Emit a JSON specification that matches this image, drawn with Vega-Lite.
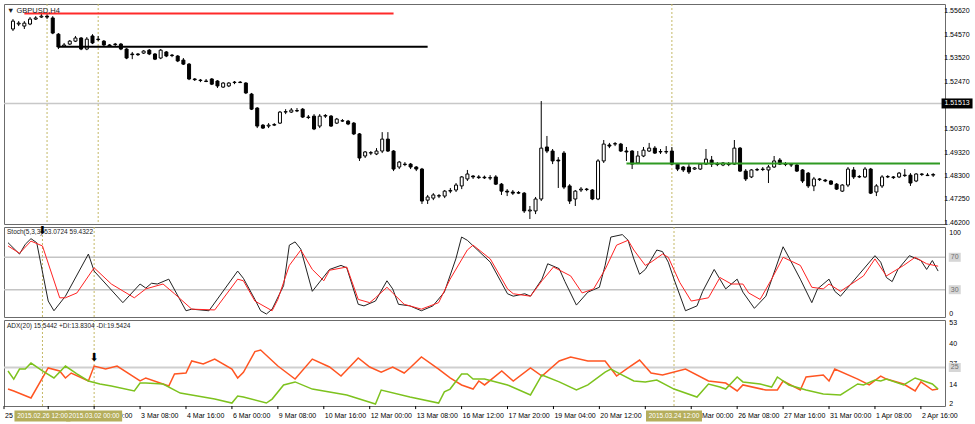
{
"$schema": "https://vega.github.io/schema/vega-lite/v6.json",
"autosize": {"type": "pad"},
"padding": {"left": 2, "top": 3, "right": 0, "bottom": 0},
"background": "white",
"spacing": 3,
"bounds": "flush",
"resolve": {"scale": {"color": "independent"}},
"config": {
  "view": {"stroke": "#6b6b6b", "strokeWidth": 1},
  "font": "Liberation Sans",
  "axis": {"labelFont": "Liberation Sans", "labelFontSize": 7, "labelColor": "#000000", "tickColor": "#000000", "domain": false, "title": null, "labelOverlap": false},
  "title": {"font": "Liberation Sans", "fontWeight": "normal", "fontSize": 7, "color": "#1a1a1a", "anchor": "start", "frame": "group", "baseline": "bottom"}
},
"datasets": {
  "candles": [
    {"i":0,"o":1.5482,"h":1.5526,"l":1.5473,"c":1.5517},
    {"i":1,"o":1.5504,"h":1.5517,"l":1.5495,"c":1.5508},
    {"i":2,"o":1.5495,"h":1.5517,"l":1.5482,"c":1.5508},
    {"i":3,"o":1.5504,"h":1.5535,"l":1.5499,"c":1.5526},
    {"i":4,"o":1.5526,"h":1.5539,"l":1.5522,"c":1.5531},
    {"i":5,"o":1.5535,"h":1.5553,"l":1.5531,"c":1.5539},
    {"i":6,"o":1.5539,"h":1.5548,"l":1.5526,"c":1.5535},
    {"i":7,"o":1.5531,"h":1.5539,"l":1.5459,"c":1.5464},
    {"i":8,"o":1.5459,"h":1.5464,"l":1.5393,"c":1.5402},
    {"i":9,"o":1.5406,"h":1.5420,"l":1.5402,"c":1.5411},
    {"i":10,"o":1.5415,"h":1.5433,"l":1.5411,"c":1.5428},
    {"i":11,"o":1.5428,"h":1.5451,"l":1.5424,"c":1.5442},
    {"i":12,"o":1.5442,"h":1.5446,"l":1.5388,"c":1.5393},
    {"i":13,"o":1.5393,"h":1.5446,"l":1.5388,"c":1.5437},
    {"i":14,"o":1.5451,"h":1.5459,"l":1.5415,"c":1.5420},
    {"i":15,"o":1.5437,"h":1.5451,"l":1.5428,"c":1.5435},
    {"i":16,"o":1.5428,"h":1.5433,"l":1.5406,"c":1.5411},
    {"i":17,"o":1.5411,"h":1.5415,"l":1.5402,"c":1.5406},
    {"i":18,"o":1.5415,"h":1.5420,"l":1.5406,"c":1.5413},
    {"i":19,"o":1.5415,"h":1.5420,"l":1.5388,"c":1.5393},
    {"i":20,"o":1.5393,"h":1.5397,"l":1.5348,"c":1.5353},
    {"i":21,"o":1.5371,"h":1.5380,"l":1.5348,"c":1.5368},
    {"i":22,"o":1.5371,"h":1.5375,"l":1.5362,"c":1.5368},
    {"i":23,"o":1.5375,"h":1.5388,"l":1.5371,"c":1.5384},
    {"i":24,"o":1.5388,"h":1.5393,"l":1.5366,"c":1.5371},
    {"i":25,"o":1.5371,"h":1.5375,"l":1.5344,"c":1.5348},
    {"i":26,"o":1.5353,"h":1.5393,"l":1.5348,"c":1.5388},
    {"i":27,"o":1.5380,"h":1.5384,"l":1.5357,"c":1.5362},
    {"i":28,"o":1.5366,"h":1.5371,"l":1.5357,"c":1.5364},
    {"i":29,"o":1.5362,"h":1.5366,"l":1.5335,"c":1.5340},
    {"i":30,"o":1.5344,"h":1.5353,"l":1.5322,"c":1.5326},
    {"i":31,"o":1.5326,"h":1.5331,"l":1.5255,"c":1.5260},
    {"i":32,"o":1.5260,"h":1.5264,"l":1.5251,"c":1.5257},
    {"i":33,"o":1.5255,"h":1.5260,"l":1.5246,"c":1.5253},
    {"i":34,"o":1.5251,"h":1.5260,"l":1.5246,"c":1.5249},
    {"i":35,"o":1.5260,"h":1.5264,"l":1.5233,"c":1.5237},
    {"i":36,"o":1.5251,"h":1.5255,"l":1.5220,"c":1.5229},
    {"i":37,"o":1.5224,"h":1.5246,"l":1.5220,"c":1.5242},
    {"i":38,"o":1.5229,"h":1.5246,"l":1.5224,"c":1.5242},
    {"i":39,"o":1.5246,"h":1.5251,"l":1.5237,"c":1.5244},
    {"i":40,"o":1.5246,"h":1.5251,"l":1.5242,"c":1.5244},
    {"i":41,"o":1.5242,"h":1.5246,"l":1.5193,"c":1.5198},
    {"i":42,"o":1.5193,"h":1.5198,"l":1.5122,"c":1.5126},
    {"i":43,"o":1.5131,"h":1.5135,"l":1.5042,"c":1.5051},
    {"i":44,"o":1.5055,"h":1.5060,"l":1.5038,"c":1.5042},
    {"i":45,"o":1.5051,"h":1.5064,"l":1.5042,"c":1.5055},
    {"i":46,"o":1.5055,"h":1.5064,"l":1.5051,"c":1.5058},
    {"i":47,"o":1.5064,"h":1.5118,"l":1.5060,"c":1.5113},
    {"i":48,"o":1.5113,"h":1.5126,"l":1.5104,"c":1.5115},
    {"i":49,"o":1.5113,"h":1.5131,"l":1.5109,"c":1.5122},
    {"i":50,"o":1.5118,"h":1.5131,"l":1.5113,"c":1.5120},
    {"i":51,"o":1.5126,"h":1.5131,"l":1.5087,"c":1.5091},
    {"i":52,"o":1.5091,"h":1.5100,"l":1.5082,"c":1.5089},
    {"i":53,"o":1.5095,"h":1.5104,"l":1.5033,"c":1.5038},
    {"i":54,"o":1.5051,"h":1.5104,"l":1.5042,"c":1.5095},
    {"i":55,"o":1.5095,"h":1.5104,"l":1.5087,"c":1.5098},
    {"i":56,"o":1.5095,"h":1.5100,"l":1.5047,"c":1.5051},
    {"i":57,"o":1.5064,"h":1.5087,"l":1.5060,"c":1.5082},
    {"i":58,"o":1.5073,"h":1.5082,"l":1.5069,"c":1.5075},
    {"i":59,"o":1.5073,"h":1.5078,"l":1.5055,"c":1.5060},
    {"i":60,"o":1.5064,"h":1.5069,"l":1.5011,"c":1.5016},
    {"i":61,"o":1.5016,"h":1.5020,"l":1.4896,"c":1.4909},
    {"i":62,"o":1.4918,"h":1.4940,"l":1.4909,"c":1.4936},
    {"i":63,"o":1.4931,"h":1.4940,"l":1.4922,"c":1.4933},
    {"i":64,"o":1.4927,"h":1.4953,"l":1.4922,"c":1.4940},
    {"i":65,"o":1.4940,"h":1.5024,"l":1.4931,"c":1.4993},
    {"i":66,"o":1.4993,"h":1.5024,"l":1.4936,"c":1.4940},
    {"i":67,"o":1.4940,"h":1.4944,"l":1.4851,"c":1.4860},
    {"i":68,"o":1.4869,"h":1.4896,"l":1.4860,"c":1.4891},
    {"i":69,"o":1.4882,"h":1.4891,"l":1.4873,"c":1.4880},
    {"i":70,"o":1.4882,"h":1.4887,"l":1.4860,"c":1.4869},
    {"i":71,"o":1.4869,"h":1.4873,"l":1.4851,"c":1.4860},
    {"i":72,"o":1.4860,"h":1.4865,"l":1.4705,"c":1.4718},
    {"i":73,"o":1.4722,"h":1.4745,"l":1.4705,"c":1.4736},
    {"i":74,"o":1.4731,"h":1.4753,"l":1.4722,"c":1.4745},
    {"i":75,"o":1.4740,"h":1.4749,"l":1.4731,"c":1.4742},
    {"i":76,"o":1.4740,"h":1.4767,"l":1.4731,"c":1.4762},
    {"i":77,"o":1.4762,"h":1.4776,"l":1.4753,"c":1.4765},
    {"i":78,"o":1.4767,"h":1.4798,"l":1.4758,"c":1.4789},
    {"i":79,"o":1.4785,"h":1.4829,"l":1.4771,"c":1.4825},
    {"i":80,"o":1.4816,"h":1.4856,"l":1.4807,"c":1.4838},
    {"i":81,"o":1.4829,"h":1.4833,"l":1.4816,"c":1.4825},
    {"i":82,"o":1.4825,"h":1.4833,"l":1.4816,"c":1.4822},
    {"i":83,"o":1.4824,"h":1.4831,"l":1.4816,"c":1.4821},
    {"i":84,"o":1.4820,"h":1.4833,"l":1.4811,"c":1.4822},
    {"i":85,"o":1.4825,"h":1.4833,"l":1.4789,"c":1.4793},
    {"i":86,"o":1.4793,"h":1.4798,"l":1.4745,"c":1.4762},
    {"i":87,"o":1.4762,"h":1.4771,"l":1.4740,"c":1.4758},
    {"i":88,"o":1.4758,"h":1.4767,"l":1.4745,"c":1.4753},
    {"i":89,"o":1.4753,"h":1.4762,"l":1.4749,"c":1.4756},
    {"i":90,"o":1.4753,"h":1.4758,"l":1.4665,"c":1.4674},
    {"i":91,"o":1.4674,"h":1.4696,"l":1.4638,"c":1.4678},
    {"i":92,"o":1.4674,"h":1.4736,"l":1.4660,"c":1.4727},
    {"i":93,"o":1.4727,"h":1.5162,"l":1.4718,"c":1.4953},
    {"i":94,"o":1.4958,"h":1.5007,"l":1.4931,"c":1.4940},
    {"i":95,"o":1.4940,"h":1.4949,"l":1.4882,"c":1.4896},
    {"i":96,"o":1.4900,"h":1.4913,"l":1.4776,"c":1.4896},
    {"i":97,"o":1.4931,"h":1.4940,"l":1.4771,"c":1.4780},
    {"i":98,"o":1.4785,"h":1.4793,"l":1.4705,"c":1.4718},
    {"i":99,"o":1.4727,"h":1.4767,"l":1.4696,"c":1.4762},
    {"i":100,"o":1.4767,"h":1.4780,"l":1.4758,"c":1.4771},
    {"i":101,"o":1.4771,"h":1.4776,"l":1.4762,"c":1.4769},
    {"i":102,"o":1.4767,"h":1.4771,"l":1.4722,"c":1.4727},
    {"i":103,"o":1.4727,"h":1.4904,"l":1.4722,"c":1.4896},
    {"i":104,"o":1.4896,"h":1.4989,"l":1.4887,"c":1.4971},
    {"i":105,"o":1.4967,"h":1.4976,"l":1.4953,"c":1.4962},
    {"i":106,"o":1.4971,"h":1.4980,"l":1.4962,"c":1.4973},
    {"i":107,"o":1.4971,"h":1.4976,"l":1.4936,"c":1.4940},
    {"i":108,"o":1.4940,"h":1.4958,"l":1.4896,"c":1.4936},
    {"i":109,"o":1.4940,"h":1.4944,"l":1.4860,"c":1.4882},
    {"i":110,"o":1.4887,"h":1.4940,"l":1.4882,"c":1.4918},
    {"i":111,"o":1.4918,"h":1.4958,"l":1.4913,"c":1.4944},
    {"i":112,"o":1.4940,"h":1.4976,"l":1.4936,"c":1.4953},
    {"i":113,"o":1.4953,"h":1.4962,"l":1.4927,"c":1.4931},
    {"i":114,"o":1.4936,"h":1.4949,"l":1.4927,"c":1.4938},
    {"i":115,"o":1.4936,"h":1.4962,"l":1.4927,"c":1.4938},
    {"i":116,"o":1.4940,"h":1.4958,"l":1.4878,"c":1.4882},
    {"i":117,"o":1.4882,"h":1.4887,"l":1.4851,"c":1.4860},
    {"i":118,"o":1.4869,"h":1.4873,"l":1.4847,"c":1.4856},
    {"i":119,"o":1.4869,"h":1.4882,"l":1.4838,"c":1.4847},
    {"i":120,"o":1.4860,"h":1.4869,"l":1.4856,"c":1.4865},
    {"i":121,"o":1.4860,"h":1.4887,"l":1.4856,"c":1.4882},
    {"i":122,"o":1.4882,"h":1.4949,"l":1.4878,"c":1.4904},
    {"i":123,"o":1.4900,"h":1.4918,"l":1.4869,"c":1.4882},
    {"i":124,"o":1.4882,"h":1.4891,"l":1.4873,"c":1.4880},
    {"i":125,"o":1.4878,"h":1.4891,"l":1.4873,"c":1.4887},
    {"i":126,"o":1.4882,"h":1.4891,"l":1.4873,"c":1.4880},
    {"i":127,"o":1.4882,"h":1.4989,"l":1.4878,"c":1.4953},
    {"i":128,"o":1.4953,"h":1.4958,"l":1.4847,"c":1.4851},
    {"i":129,"o":1.4851,"h":1.4860,"l":1.4807,"c":1.4816},
    {"i":130,"o":1.4825,"h":1.4860,"l":1.4820,"c":1.4856},
    {"i":131,"o":1.4856,"h":1.4865,"l":1.4851,"c":1.4858},
    {"i":132,"o":1.4860,"h":1.4869,"l":1.4851,"c":1.4858},
    {"i":133,"o":1.4856,"h":1.4878,"l":1.4798,"c":1.4869},
    {"i":134,"o":1.4869,"h":1.4918,"l":1.4865,"c":1.4896},
    {"i":135,"o":1.4900,"h":1.4909,"l":1.4878,"c":1.4882},
    {"i":136,"o":1.4882,"h":1.4891,"l":1.4873,"c":1.4880},
    {"i":137,"o":1.4878,"h":1.4887,"l":1.4869,"c":1.4880},
    {"i":138,"o":1.4878,"h":1.4882,"l":1.4847,"c":1.4851},
    {"i":139,"o":1.4856,"h":1.4860,"l":1.4798,"c":1.4807},
    {"i":140,"o":1.4842,"h":1.4847,"l":1.4776,"c":1.4785},
    {"i":141,"o":1.4785,"h":1.4825,"l":1.4762,"c":1.4816},
    {"i":142,"o":1.4816,"h":1.4820,"l":1.4807,"c":1.4813},
    {"i":143,"o":1.4811,"h":1.4816,"l":1.4802,"c":1.4807},
    {"i":144,"o":1.4807,"h":1.4811,"l":1.4789,"c":1.4793},
    {"i":145,"o":1.4793,"h":1.4798,"l":1.4767,"c":1.4771},
    {"i":146,"o":1.4762,"h":1.4793,"l":1.4758,"c":1.4789},
    {"i":147,"o":1.4789,"h":1.4869,"l":1.4780,"c":1.4860},
    {"i":148,"o":1.4856,"h":1.4869,"l":1.4816,"c":1.4825},
    {"i":149,"o":1.4825,"h":1.4833,"l":1.4820,"c":1.4827},
    {"i":150,"o":1.4825,"h":1.4869,"l":1.4820,"c":1.4860},
    {"i":151,"o":1.4860,"h":1.4865,"l":1.4749,"c":1.4753},
    {"i":152,"o":1.4758,"h":1.4793,"l":1.4740,"c":1.4785},
    {"i":153,"o":1.4785,"h":1.4833,"l":1.4776,"c":1.4825},
    {"i":154,"o":1.4825,"h":1.4833,"l":1.4820,"c":1.4827},
    {"i":155,"o":1.4825,"h":1.4829,"l":1.4816,"c":1.4822},
    {"i":156,"o":1.4825,"h":1.4847,"l":1.4820,"c":1.4842},
    {"i":157,"o":1.4833,"h":1.4860,"l":1.4825,"c":1.4831},
    {"i":158,"o":1.4833,"h":1.4842,"l":1.4785,"c":1.4798},
    {"i":159,"o":1.4807,"h":1.4842,"l":1.4802,"c":1.4838},
    {"i":160,"o":1.4838,"h":1.4842,"l":1.4829,"c":1.4836},
    {"i":161,"o":1.4833,"h":1.4842,"l":1.4829,"c":1.4831},
    {"i":162,"o":1.4833,"h":1.4842,"l":1.4825,"c":1.4836}
  ],
  "stoch": [
    {"i":0,"s":"main","v":88},{"i":2,"s":"main","v":74},{"i":3,"s":"main","v":86},{"i":4,"s":"main","v":93},{"i":5,"s":"main","v":88},{"i":7,"s":"main","v":16},{"i":8,"s":"main","v":4},{"i":10,"s":"main","v":22},{"i":14,"s":"main","v":74},{"i":15,"s":"main","v":53},{"i":20,"s":"main","v":14},{"i":23,"s":"main","v":37},{"i":24,"s":"main","v":32},{"i":25,"s":"main","v":38},{"i":26,"s":"main","v":37},{"i":28,"s":"main","v":43},{"i":31,"s":"main","v":4},{"i":32,"s":"main","v":6},{"i":35,"s":"main","v":4},{"i":40,"s":"main","v":53},{"i":41,"s":"main","v":44},{"i":43,"s":"main","v":18},{"i":44,"s":"main","v":4},{"i":45,"s":"main","v":0},{"i":46,"s":"main","v":6},{"i":48,"s":"main","v":35},{"i":49,"s":"main","v":85},{"i":50,"s":"main","v":89},{"i":51,"s":"main","v":80},{"i":53,"s":"main","v":28},{"i":54,"s":"main","v":37},{"i":56,"s":"main","v":55},{"i":58,"s":"main","v":60},{"i":59,"s":"main","v":57},{"i":61,"s":"main","v":12},{"i":62,"s":"main","v":10},{"i":64,"s":"main","v":16},{"i":66,"s":"main","v":41},{"i":67,"s":"main","v":31},{"i":68,"s":"main","v":12},{"i":70,"s":"main","v":10},{"i":72,"s":"main","v":4},{"i":74,"s":"main","v":10},{"i":76,"s":"main","v":27},{"i":78,"s":"main","v":68},{"i":79,"s":"main","v":95},{"i":80,"s":"main","v":91},{"i":84,"s":"main","v":64},{"i":87,"s":"main","v":25},{"i":88,"s":"main","v":22},{"i":90,"s":"main","v":25},{"i":91,"s":"main","v":22},{"i":93,"s":"main","v":43},{"i":94,"s":"main","v":62},{"i":96,"s":"main","v":56},{"i":97,"s":"main","v":40},{"i":99,"s":"main","v":11},{"i":101,"s":"main","v":27},{"i":102,"s":"main","v":30},{"i":103,"s":"main","v":33},{"i":104,"s":"main","v":60},{"i":105,"s":"main","v":95},{"i":107,"s":"main","v":98},{"i":108,"s":"main","v":91},{"i":109,"s":"main","v":68},{"i":110,"s":"main","v":49},{"i":111,"s":"main","v":55},{"i":113,"s":"main","v":79},{"i":114,"s":"main","v":77},{"i":115,"s":"main","v":64},{"i":116,"s":"main","v":43},{"i":118,"s":"main","v":4},{"i":120,"s":"main","v":10},{"i":121,"s":"main","v":28},{"i":123,"s":"main","v":55},{"i":125,"s":"main","v":31},{"i":127,"s":"main","v":43},{"i":128,"s":"main","v":27},{"i":130,"s":"main","v":7},{"i":132,"s":"main","v":22},{"i":135,"s":"main","v":83},{"i":136,"s":"main","v":70},{"i":138,"s":"main","v":43},{"i":140,"s":"main","v":14},{"i":141,"s":"main","v":31},{"i":143,"s":"main","v":43},{"i":144,"s":"main","v":28},{"i":145,"s":"main","v":22},{"i":148,"s":"main","v":47},{"i":151,"s":"main","v":72},{"i":152,"s":"main","v":64},{"i":153,"s":"main","v":45},{"i":154,"s":"main","v":40},{"i":155,"s":"main","v":55},{"i":157,"s":"main","v":72},{"i":159,"s":"main","v":66},{"i":160,"s":"main","v":55},{"i":161,"s":"main","v":66},{"i":162,"s":"main","v":53},
    {"i":0,"s":"signal","v":84},{"i":2,"s":"signal","v":75},{"i":4,"s":"signal","v":90},{"i":6,"s":"signal","v":84},{"i":9,"s":"signal","v":20},{"i":10,"s":"signal","v":20},{"i":12,"s":"signal","v":26},{"i":15,"s":"signal","v":57},{"i":18,"s":"signal","v":37},{"i":22,"s":"signal","v":20},{"i":24,"s":"signal","v":31},{"i":27,"s":"signal","v":37},{"i":29,"s":"signal","v":25},{"i":32,"s":"signal","v":6},{"i":36,"s":"signal","v":5},{"i":40,"s":"signal","v":43},{"i":41,"s":"signal","v":41},{"i":43,"s":"signal","v":16},{"i":46,"s":"signal","v":4},{"i":47,"s":"signal","v":18},{"i":49,"s":"signal","v":60},{"i":51,"s":"signal","v":79},{"i":53,"s":"signal","v":55},{"i":55,"s":"signal","v":41},{"i":56,"s":"signal","v":54},{"i":59,"s":"signal","v":58},{"i":61,"s":"signal","v":18},{"i":63,"s":"signal","v":14},{"i":64,"s":"signal","v":20},{"i":66,"s":"signal","v":33},{"i":67,"s":"signal","v":26},{"i":69,"s":"signal","v":12},{"i":72,"s":"signal","v":6},{"i":75,"s":"signal","v":14},{"i":77,"s":"signal","v":43},{"i":80,"s":"signal","v":79},{"i":81,"s":"signal","v":85},{"i":84,"s":"signal","v":68},{"i":87,"s":"signal","v":31},{"i":88,"s":"signal","v":25},{"i":91,"s":"signal","v":22},{"i":93,"s":"signal","v":41},{"i":95,"s":"signal","v":58},{"i":98,"s":"signal","v":47},{"i":100,"s":"signal","v":26},{"i":102,"s":"signal","v":31},{"i":104,"s":"signal","v":55},{"i":106,"s":"signal","v":85},{"i":108,"s":"signal","v":91},{"i":109,"s":"signal","v":79},{"i":111,"s":"signal","v":60},{"i":112,"s":"signal","v":64},{"i":114,"s":"signal","v":74},{"i":115,"s":"signal","v":70},{"i":117,"s":"signal","v":39},{"i":119,"s":"signal","v":16},{"i":122,"s":"signal","v":20},{"i":124,"s":"signal","v":45},{"i":126,"s":"signal","v":37},{"i":128,"s":"signal","v":37},{"i":129,"s":"signal","v":26},{"i":131,"s":"signal","v":18},{"i":133,"s":"signal","v":43},{"i":135,"s":"signal","v":70},{"i":138,"s":"signal","v":60},{"i":140,"s":"signal","v":33},{"i":142,"s":"signal","v":31},{"i":143,"s":"signal","v":37},{"i":145,"s":"signal","v":28},{"i":149,"s":"signal","v":47},{"i":151,"s":"signal","v":68},{"i":153,"s":"signal","v":47},{"i":156,"s":"signal","v":60},{"i":158,"s":"signal","v":70},{"i":160,"s":"signal","v":62},{"i":162,"s":"signal","v":59}
  ],
  "adx": [
    {"i":0,"s":"ADX","v":11.4},{"i":1,"s":"ADX","v":10.2},{"i":4,"s":"ADX","v":5.8},{"i":7,"s":"ADX","v":24.7},{"i":9,"s":"ADX","v":22.8},{"i":10,"s":"ADX","v":18.4},{"i":11,"s":"ADX","v":21.5},{"i":14,"s":"ADX","v":16.5},{"i":15,"s":"ADX","v":25.9},{"i":17,"s":"ADX","v":24.0},{"i":19,"s":"ADX","v":25.9},{"i":23,"s":"ADX","v":16.5},{"i":24,"s":"ADX","v":18.4},{"i":28,"s":"ADX","v":13.3},{"i":29,"s":"ADX","v":20.9},{"i":31,"s":"ADX","v":21.5},{"i":32,"s":"ADX","v":29.1},{"i":34,"s":"ADX","v":27.2},{"i":36,"s":"ADX","v":30.3},{"i":39,"s":"ADX","v":24.0},{"i":40,"s":"ADX","v":18.4},{"i":41,"s":"ADX","v":22.0},{"i":43,"s":"ADX","v":35.0},{"i":44,"s":"ADX","v":36.0},{"i":47,"s":"ADX","v":25.9},{"i":50,"s":"ADX","v":17.7},{"i":53,"s":"ADX","v":30.3},{"i":56,"s":"ADX","v":25.3},{"i":58,"s":"ADX","v":19.6},{"i":61,"s":"ADX","v":31.0},{"i":63,"s":"ADX","v":25.3},{"i":65,"s":"ADX","v":22.1},{"i":67,"s":"ADX","v":25.3},{"i":69,"s":"ADX","v":21.5},{"i":70,"s":"ADX","v":24.7},{"i":72,"s":"ADX","v":31.6},{"i":75,"s":"ADX","v":24.0},{"i":77,"s":"ADX","v":18.4},{"i":79,"s":"ADX","v":14.0},{"i":81,"s":"ADX","v":11.4},{"i":82,"s":"ADX","v":16.5},{"i":83,"s":"ADX","v":14.0},{"i":86,"s":"ADX","v":22.8},{"i":88,"s":"ADX","v":16.5},{"i":91,"s":"ADX","v":24.7},{"i":93,"s":"ADX","v":19.6},{"i":96,"s":"ADX","v":29.1},{"i":98,"s":"ADX","v":31.6},{"i":101,"s":"ADX","v":29.1},{"i":104,"s":"ADX","v":29.1},{"i":106,"s":"ADX","v":19.6},{"i":108,"s":"ADX","v":24.7},{"i":110,"s":"ADX","v":29.7},{"i":112,"s":"ADX","v":21.5},{"i":114,"s":"ADX","v":20.3},{"i":118,"s":"ADX","v":24.0},{"i":122,"s":"ADX","v":16.5},{"i":125,"s":"ADX","v":15.2},{"i":127,"s":"ADX","v":10.2},{"i":128,"s":"ADX","v":14.0},{"i":132,"s":"ADX","v":10.8},{"i":134,"s":"ADX","v":10.8},{"i":135,"s":"ADX","v":16.5},{"i":138,"s":"ADX","v":10.8},{"i":139,"s":"ADX","v":19.0},{"i":142,"s":"ADX","v":20.3},{"i":143,"s":"ADX","v":16.5},{"i":144,"s":"ADX","v":24.0},{"i":148,"s":"ADX","v":17.7},{"i":150,"s":"ADX","v":14.0},{"i":152,"s":"ADX","v":19.6},{"i":153,"s":"ADX","v":17.7},{"i":156,"s":"ADX","v":14.6},{"i":158,"s":"ADX","v":10.2},{"i":159,"s":"ADX","v":15.9},{"i":161,"s":"ADX","v":10.8},{"i":162,"s":"ADX","v":11.4},
    {"i":0,"s":"+DI","v":22.8},{"i":1,"s":"+DI","v":17.7},{"i":2,"s":"+DI","v":24.0},{"i":3,"s":"+DI","v":24.0},{"i":4,"s":"+DI","v":27.8},{"i":6,"s":"+DI","v":22.8},{"i":8,"s":"+DI","v":18.4},{"i":10,"s":"+DI","v":25.9},{"i":12,"s":"+DI","v":20.9},{"i":14,"s":"+DI","v":16.5},{"i":16,"s":"+DI","v":14.6},{"i":18,"s":"+DI","v":13.3},{"i":22,"s":"+DI","v":10.2},{"i":23,"s":"+DI","v":15.2},{"i":24,"s":"+DI","v":15.2},{"i":27,"s":"+DI","v":14.6},{"i":30,"s":"+DI","v":8.9},{"i":33,"s":"+DI","v":7.0},{"i":36,"s":"+DI","v":5.1},{"i":39,"s":"+DI","v":2.6},{"i":40,"s":"+DI","v":7.0},{"i":41,"s":"+DI","v":6.4},{"i":45,"s":"+DI","v":2.6},{"i":46,"s":"+DI","v":5.1},{"i":48,"s":"+DI","v":14.0},{"i":50,"s":"+DI","v":15.9},{"i":53,"s":"+DI","v":11.4},{"i":59,"s":"+DI","v":7.7},{"i":64,"s":"+DI","v":2.0},{"i":65,"s":"+DI","v":10.8},{"i":70,"s":"+DI","v":6.4},{"i":75,"s":"+DI","v":2.6},{"i":76,"s":"+DI","v":9.6},{"i":77,"s":"+DI","v":11.4},{"i":79,"s":"+DI","v":20.9},{"i":80,"s":"+DI","v":20.9},{"i":81,"s":"+DI","v":17.7},{"i":83,"s":"+DI","v":17.7},{"i":87,"s":"+DI","v":14.0},{"i":91,"s":"+DI","v":7.7},{"i":93,"s":"+DI","v":20.3},{"i":96,"s":"+DI","v":15.9},{"i":99,"s":"+DI","v":10.8},{"i":101,"s":"+DI","v":14.0},{"i":104,"s":"+DI","v":22.1},{"i":105,"s":"+DI","v":24.0},{"i":106,"s":"+DI","v":22.1},{"i":109,"s":"+DI","v":16.5},{"i":111,"s":"+DI","v":15.9},{"i":113,"s":"+DI","v":17.1},{"i":116,"s":"+DI","v":11.4},{"i":120,"s":"+DI","v":6.4},{"i":122,"s":"+DI","v":14.6},{"i":124,"s":"+DI","v":12.7},{"i":125,"s":"+DI","v":11.4},{"i":127,"s":"+DI","v":19.0},{"i":128,"s":"+DI","v":15.9},{"i":131,"s":"+DI","v":14.6},{"i":133,"s":"+DI","v":12.7},{"i":134,"s":"+DI","v":19.0},{"i":136,"s":"+DI","v":14.0},{"i":139,"s":"+DI","v":10.8},{"i":142,"s":"+DI","v":8.3},{"i":145,"s":"+DI","v":7.7},{"i":148,"s":"+DI","v":14.6},{"i":149,"s":"+DI","v":14.0},{"i":151,"s":"+DI","v":17.1},{"i":152,"s":"+DI","v":16.5},{"i":153,"s":"+DI","v":17.7},{"i":156,"s":"+DI","v":14.0},{"i":158,"s":"+DI","v":18.4},{"i":159,"s":"+DI","v":17.1},{"i":161,"s":"+DI","v":14.6},{"i":162,"s":"+DI","v":11.4}
  ],
  "vlines": [{"i":6},{"i":15},{"i":116}],
  "hlines": [
    {"name":"red","from":2,"to":67,"price":1.5551},
    {"name":"black","from":8,"to":73,"price":1.5403},
    {"name":"green","from":108,"to":163.2,"price":1.4885}
  ],
  "priceTicks": [{"p":1.462,"t":"1.46200"},{"p":1.4725,"t":"1.47250"},{"p":1.483,"t":"1.48300"},{"p":1.4932,"t":"1.49320"},{"p":1.5037,"t":"1.50370"},{"p":1.5142,"t":"1.51420"},{"p":1.5247,"t":"1.52470"},{"p":1.5352,"t":"1.53520"},{"p":1.5457,"t":"1.54570"},{"p":1.5562,"t":"1.55620"}],
  "stochTicks": [{"p":0,"t":"0"},{"p":100,"t":"100"}],
  "adxTicks": [{"p":2,"t":"2"},{"p":14,"t":"14"},{"p":27,"t":"27"},{"p":40,"t":"40"},{"p":53,"t":"53"}],
  "xlabels": [{"i":-0.7,"t":"25 Feb 2015"},{"i":7,"t":"26 Feb 16:00"},{"i":15,"t":"2 Mar 00:00"},{"i":23,"t":"3 Mar 08:00"},{"i":31,"t":"4 Mar 16:00"},{"i":39,"t":"6 Mar 00:00"},{"i":47,"t":"9 Mar 08:00"},{"i":55,"t":"10 Mar 16:00"},{"i":63,"t":"12 Mar 00:00"},{"i":71,"t":"13 Mar 08:00"},{"i":79,"t":"16 Mar 12:00"},{"i":87,"t":"17 Mar 20:00"},{"i":95,"t":"19 Mar 04:00"},{"i":103,"t":"20 Mar 12:00"},{"i":111,"t":"23 Mar 16:00"},{"i":119,"t":"25 Mar 00:00"},{"i":127,"t":"26 Mar 08:00"},{"i":135,"t":"27 Mar 16:00"},{"i":143,"t":"31 Mar 00:00"},{"i":151,"t":"1 Apr 08:00"},{"i":159,"t":"2 Apr 16:00"}],
  "current": [{"price":1.51513,"txt":"1.51513"}],
  "stochLevels": [{"lv":70,"txt":"70"},{"lv":30,"txt":"30"}],
  "adxLevels": [{"lv":25,"txt":"25"}],
  "xmarks": [{"i":6,"label":"2015.02.26 12:00"},{"i":15,"label":"2015.03.02 00:00"},{"i":116,"label":"2015.03.24 12:00"}],
  "arrowStoch": [{"i":6,"v":102,"sym":"⬇"}],
  "arrowAdx": [{"i":15,"v":31,"sym":"⬇"}]
},
"vconcat": [
  {
    "width": 941, "height": 220,
    "title": {"text": "▼ GBPUSD,H4", "offset": -11, "dx": 3, "fontSize": 7.5},
    "layer": [
      {"data": {"name": "vlines"}, "mark": {"type": "rule", "color": "#c4b866", "strokeDash": [2,2], "strokeWidth": 1},
       "encoding": {"x": {"field": "i", "type": "quantitative", "scale": {"domain": [-0.7, 163.2], "nice": false, "zero": false},
         "axis": {"values": [3,7,11,15,19,23,27,31,35,39,43,47,51,55,59,63,67,71,75,79,83,87,91,95,99,103,107,111,115,119,123,127,131,135,139,143,147,151,155,159,163], "labels": false, "ticks": false, "domain": false, "grid": true, "gridDash": [1,2], "gridColor": "#c6c6c6", "title": null}}}},
      {"data": {"name": "current"}, "mark": {"type": "rule", "color": "#c8c8c8", "strokeWidth": 1.5},
       "encoding": {"y": {"field": "price", "type": "quantitative", "scale": {"domain": [1.4616, 1.5593], "nice": false, "zero": false},
         "axis": {"orient": "right", "values": [1.462, 1.4725, 1.483, 1.4932, 1.5037, 1.5142, 1.5247, 1.5352, 1.5457, 1.5562], "labels": false, "ticks": true, "tickSize": 3, "grid": true, "gridDash": [1,2], "gridColor": "#c6c6c6", "title": null}}}},
      {"data": {"name": "candles"}, "mark": {"type": "rule", "color": "black", "strokeWidth": 1},
       "encoding": {"x": {"field": "i", "type": "quantitative", "scale": {"domain": [-0.7, 163.2], "nice": false, "zero": false}, "axis": null},
         "y": {"field": "l", "type": "quantitative", "scale": {"domain": [1.4616, 1.5593], "nice": false, "zero": false}, "axis": null},
         "y2": {"field": "h"}}},
      {"data": {"name": "candles"}, "mark": {"type": "bar", "size": 3, "stroke": "black", "strokeWidth": 1, "orient": "vertical"},
       "encoding": {"x": {"field": "i", "type": "quantitative", "scale": {"domain": [-0.7, 163.2], "nice": false, "zero": false}, "axis": null},
         "y": {"field": "o", "type": "quantitative", "scale": {"domain": [1.4616, 1.5593], "nice": false, "zero": false}, "axis": null},
         "y2": {"field": "c"},
         "fill": {"condition": {"test": "datum.c < datum.o", "value": "black"}, "value": "white"}}},
      {"data": {"name": "hlines"}, "mark": {"type": "rule", "strokeWidth": 2},
       "encoding": {"x": {"field": "from", "type": "quantitative", "scale": {"domain": [-0.7, 163.2], "nice": false, "zero": false}, "axis": null},
         "x2": {"field": "to"},
         "y": {"field": "price", "type": "quantitative", "scale": {"domain": [1.4616, 1.5593], "nice": false, "zero": false}, "axis": null},
         "color": {"field": "name", "type": "nominal", "scale": {"domain": ["red","black","green"], "range": ["#ff2a2a","#000000","#2f9a22"]}, "legend": null}}},
      {"data": {"name": "priceTicks"}, "mark": {"type": "text", "color": "black", "fontSize": 7, "font": "Liberation Sans", "align": "left", "baseline": "middle"},
       "encoding": {"x": {"datum": 163.95, "type": "quantitative", "scale": {"domain": [-0.7, 163.2], "nice": false, "zero": false}, "axis": null},
         "y": {"field": "p", "type": "quantitative", "scale": {"domain": [1.4616, 1.5593], "nice": false, "zero": false}, "axis": null},
         "text": {"field": "t"}}},
      {"data": {"name": "current"}, "mark": {"type": "tick", "orient": "horizontal", "size": 31, "thickness": 10, "color": "black", "opacity": 1},
       "encoding": {"x": {"datum": 166.2, "type": "quantitative", "scale": {"domain": [-0.7, 163.2], "nice": false, "zero": false}, "axis": null},
         "y": {"field": "price", "type": "quantitative", "scale": {"domain": [1.4616, 1.5593], "nice": false, "zero": false}, "axis": null}}},
      {"data": {"name": "current"}, "mark": {"type": "text", "color": "white", "fontSize": 7, "font": "Liberation Sans", "align": "center", "baseline": "middle"},
       "encoding": {"x": {"datum": 166.2, "type": "quantitative", "scale": {"domain": [-0.7, 163.2], "nice": false, "zero": false}, "axis": null},
         "y": {"field": "price", "type": "quantitative", "scale": {"domain": [1.4616, 1.5593], "nice": false, "zero": false}, "axis": null},
         "text": {"field": "txt"}}}
    ]
  },
  {
    "width": 941, "height": 90,
    "title": {"text": "Stoch(5,3,3) 53.0724 59.4322", "offset": -10, "dx": 3, "fontSize": 6.5},
    "layer": [
      {"data": {"name": "vlines"}, "mark": {"type": "rule", "color": "#c4b866", "strokeDash": [2,2], "strokeWidth": 1},
       "encoding": {"x": {"field": "i", "type": "quantitative", "scale": {"domain": [-0.7, 163.2], "nice": false, "zero": false},
         "axis": {"values": [3,7,11,15,19,23,27,31,35,39,43,47,51,55,59,63,67,71,75,79,83,87,91,95,99,103,107,111,115,119,123,127,131,135,139,143,147,151,155,159,163], "labels": false, "ticks": false, "domain": false, "grid": true, "gridDash": [1,2], "gridColor": "#c6c6c6", "title": null}}}},
      {"data": {"name": "stochLevels"}, "mark": {"type": "rule", "color": "#c4c4c4", "strokeWidth": 1.5},
       "encoding": {"y": {"field": "lv", "type": "quantitative", "scale": {"domain": [-3.7, 107.4], "nice": false, "zero": false},
         "axis": {"orient": "right", "values": [0, 100], "labels": false, "ticks": true, "tickSize": 3, "grid": false, "title": null}}}},
      {"data": {"name": "stoch"}, "mark": {"type": "line", "strokeWidth": 1},
       "encoding": {"x": {"field": "i", "type": "quantitative", "scale": {"domain": [-0.7, 163.2], "nice": false, "zero": false}, "axis": null},
         "y": {"field": "v", "type": "quantitative", "scale": {"domain": [-3.7, 107.4], "nice": false, "zero": false}, "axis": null},
         "color": {"field": "s", "type": "nominal", "scale": {"domain": ["main","signal"], "range": ["#222222","#ff2222"]}, "legend": null}}},
      {"data": {"name": "stochTicks"}, "mark": {"type": "text", "color": "black", "fontSize": 7, "font": "Liberation Sans", "align": "left", "baseline": "middle"},
       "encoding": {"x": {"datum": 163.95, "type": "quantitative", "scale": {"domain": [-0.7, 163.2], "nice": false, "zero": false}, "axis": null},
         "y": {"field": "p", "type": "quantitative", "scale": {"domain": [-3.7, 107.4], "nice": false, "zero": false}, "axis": null},
         "text": {"field": "t"}}},
      {"data": {"name": "stochLevels"}, "mark": {"type": "tick", "orient": "horizontal", "size": 12, "thickness": 9, "color": "#d6d6d6", "opacity": 1},
       "encoding": {"x": {"datum": 164.9, "type": "quantitative", "scale": {"domain": [-0.7, 163.2], "nice": false, "zero": false}, "axis": null},
         "y": {"field": "lv", "type": "quantitative", "scale": {"domain": [-3.7, 107.4], "nice": false, "zero": false}, "axis": null}}},
      {"data": {"name": "stochLevels"}, "mark": {"type": "text", "color": "#6e6e6e", "fontSize": 7, "font": "Liberation Sans", "align": "center", "baseline": "middle"},
       "encoding": {"x": {"datum": 164.9, "type": "quantitative", "scale": {"domain": [-0.7, 163.2], "nice": false, "zero": false}, "axis": null},
         "y": {"field": "lv", "type": "quantitative", "scale": {"domain": [-3.7, 107.4], "nice": false, "zero": false}, "axis": null},
         "text": {"field": "txt"}}},
      {"data": {"name": "arrowStoch"}, "mark": {"type": "text", "color": "black", "fontSize": 11, "font": "DejaVu Sans", "align": "center", "baseline": "middle"},
       "encoding": {"x": {"field": "i", "type": "quantitative", "scale": {"domain": [-0.7, 163.2], "nice": false, "zero": false}, "axis": null},
         "y": {"field": "v", "type": "quantitative", "scale": {"domain": [-3.7, 107.4], "nice": false, "zero": false}, "axis": null},
         "text": {"field": "sym"}}}
    ]
  },
  {
    "width": 941, "height": 86,
    "title": {"text": "ADX(20) 15.5442 +DI:13.8304 -DI:19.5424", "offset": -10, "dx": 3, "fontSize": 6.5},
    "layer": [
      {"data": {"name": "vlines"}, "mark": {"type": "rule", "color": "#c4b866", "strokeDash": [2,2], "strokeWidth": 1},
       "encoding": {"x": {"field": "i", "type": "quantitative", "scale": {"domain": [-0.7, 163.2], "nice": false, "zero": false},
         "axis": {"values": [3,7,11,15,19,23,27,31,35,39,43,47,51,55,59,63,67,71,75,79,83,87,91,95,99,103,107,111,115,119,123,127,131,135,139,143,147,151,155,159,163], "labels": false, "ticks": false, "domain": false, "grid": true, "gridDash": [1,2], "gridColor": "#c6c6c6", "title": null}}}},
      {"data": {"name": "adxLevels"}, "mark": {"type": "rule", "color": "#cfcfcf", "strokeWidth": 2},
       "encoding": {"y": {"field": "lv", "type": "quantitative", "scale": {"domain": [0.74, 54.9], "nice": false, "zero": false},
         "axis": {"orient": "right", "values": [2, 14, 27, 40, 53], "labels": false, "ticks": true, "tickSize": 3, "grid": true, "gridDash": [1,2], "gridColor": "#c6c6c6", "title": null}}}},
      {"data": {"name": "adx"}, "mark": {"type": "line", "strokeWidth": 1.5},
       "encoding": {"x": {"field": "i", "type": "quantitative", "scale": {"domain": [-0.7, 163.2], "nice": false, "zero": false}, "axis": null},
         "y": {"field": "v", "type": "quantitative", "scale": {"domain": [0.74, 54.9], "nice": false, "zero": false}, "axis": null},
         "color": {"field": "s", "type": "nominal", "scale": {"domain": ["ADX","+DI"], "range": ["#ff5522","#7dc21e"]}, "legend": null}}},
      {"data": {"name": "adxTicks"}, "mark": {"type": "text", "color": "black", "fontSize": 7, "font": "Liberation Sans", "align": "left", "baseline": "middle"},
       "encoding": {"x": {"datum": 163.95, "type": "quantitative", "scale": {"domain": [-0.7, 163.2], "nice": false, "zero": false}, "axis": null},
         "y": {"field": "p", "type": "quantitative", "scale": {"domain": [0.74, 54.9], "nice": false, "zero": false}, "axis": null},
         "text": {"field": "t"}}},
      {"data": {"name": "adxLevels"}, "mark": {"type": "tick", "orient": "horizontal", "size": 12, "thickness": 9, "color": "#d6d6d6", "opacity": 1},
       "encoding": {"x": {"datum": 164.9, "type": "quantitative", "scale": {"domain": [-0.7, 163.2], "nice": false, "zero": false}, "axis": null},
         "y": {"field": "lv", "type": "quantitative", "scale": {"domain": [0.74, 54.9], "nice": false, "zero": false}, "axis": null}}},
      {"data": {"name": "adxLevels"}, "mark": {"type": "text", "color": "#6e6e6e", "fontSize": 7, "font": "Liberation Sans", "align": "center", "baseline": "middle"},
       "encoding": {"x": {"datum": 164.9, "type": "quantitative", "scale": {"domain": [-0.7, 163.2], "nice": false, "zero": false}, "axis": null},
         "y": {"field": "lv", "type": "quantitative", "scale": {"domain": [0.74, 54.9], "nice": false, "zero": false}, "axis": null},
         "text": {"field": "txt"}}},
      {"data": {"name": "arrowAdx"}, "mark": {"type": "text", "color": "black", "fontSize": 11, "font": "DejaVu Sans", "align": "center", "baseline": "middle"},
       "encoding": {"x": {"field": "i", "type": "quantitative", "scale": {"domain": [-0.7, 163.2], "nice": false, "zero": false}, "axis": null},
         "y": {"field": "v", "type": "quantitative", "scale": {"domain": [0.74, 54.9], "nice": false, "zero": false}, "axis": null},
         "text": {"field": "sym"}}},
      {"data": {"name": "xlabels"}, "mark": {"type": "rule", "color": "black", "strokeWidth": 1},
       "encoding": {"x": {"field": "i", "type": "quantitative", "scale": {"domain": [-0.7, 163.2], "nice": false, "zero": false}, "axis": null},
         "y": {"datum": 0.74, "type": "quantitative", "scale": {"domain": [0.74, 54.9], "nice": false, "zero": false}, "axis": null},
         "y2": {"datum": -1.2}}},
      {"data": {"name": "xlabels"}, "mark": {"type": "text", "color": "black", "fontSize": 7, "font": "Liberation Sans", "align": "left", "baseline": "middle", "dx": 1},
       "encoding": {"x": {"field": "i", "type": "quantitative", "scale": {"domain": [-0.7, 163.2], "nice": false, "zero": false}, "axis": null},
         "y": {"datum": -5.6, "type": "quantitative", "scale": {"domain": [0.74, 54.9], "nice": false, "zero": false}, "axis": null},
         "text": {"field": "t"}}},
      {"data": {"name": "xmarks"}, "mark": {"type": "tick", "orient": "horizontal", "size": 56, "thickness": 11, "color": "#b5ae5c", "opacity": 1},
       "encoding": {"x": {"field": "i", "type": "quantitative", "scale": {"domain": [-0.7, 163.2], "nice": false, "zero": false}, "axis": null},
         "y": {"datum": -5.6, "type": "quantitative", "scale": {"domain": [0.74, 54.9], "nice": false, "zero": false}, "axis": null}}},
      {"data": {"name": "xmarks"}, "mark": {"type": "text", "color": "white", "fontSize": 6.5, "font": "Liberation Sans", "align": "center", "baseline": "middle"},
       "encoding": {"x": {"field": "i", "type": "quantitative", "scale": {"domain": [-0.7, 163.2], "nice": false, "zero": false}, "axis": null},
         "y": {"datum": -5.6, "type": "quantitative", "scale": {"domain": [0.74, 54.9], "nice": false, "zero": false}, "axis": null},
         "text": {"field": "label"}}}
    ]
  }
]
}
